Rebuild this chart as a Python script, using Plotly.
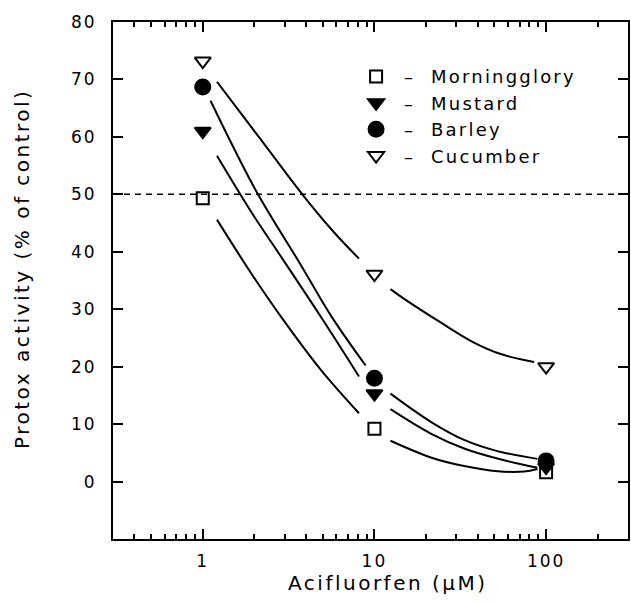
import plotly.graph_objects as go

# ---- data ----
conc = [1, 10, 100]  # Acifluorfen (µM)
species = ["Morningglory", "Mustard", "Barley", "Cucumber"]
morningglory = [49.3, 9.2, 1.6]
mustard = [61.0, 15.3, 2.5]
barley = [68.7, 18.0, 3.6]
cucumber = [73.2, 36.1, 20.0]

# fitted curves (two segments each, gap around the 10 µM marker)
mg_curve_x = [1.21, 1.90, 2.84, 4.86, 8.13, None, 12.4, 21.3, 33.3, 52, 74.5, 89]
mg_curve_y = [45.6, 36.4, 28.8, 19.5, 11.9, None, 7.1, 4.2, 2.7, 1.8, 1.75, 2.2]
mu_curve_x = [1.21, 1.90, 3.0, 4.97, 8.13, None, 12.4, 21.3, 33.3, 52, 89]
mu_curve_y = [56.7, 47.1, 38.2, 28.3, 18.3, None, 12.6, 8.35, 5.75, 4.0, 2.4]
ba_curve_x = [1.11, 2.07, 3.71, 5.69, 8.89, None, 12.4, 21.3, 33.3, 52, 89]
ba_curve_y = [66.3, 50.3, 37.8, 28.5, 20.2, None, 15.3, 10.4, 7.25, 5.3, 3.95]
cu_curve_x = [1.21, 2.17, 3.8, 5.81, 8.13, None, 12.4, 14.9, 24.3, 38.0, 54.4, 85.2]
cu_curve_y = [69.6, 59.6, 50.0, 43.4, 38.8, None, 33.5, 31.8, 27.7, 24.2, 22.2, 20.8]

threshold = 50
y_range = [-10, 80]
y_ticks = [0, 10, 20, 30, 40, 50, 60, 70, 80]
x_ticks = [1, 10, 100]
x_ticklabels = ["1", "10", "100"]
x_title = "Acifluorfen (\u03bcM)"
y_title = "Protox activity (% of control)"

FONT = "DejaVu Sans"
fig = go.Figure()

curves = [(mg_curve_x, mg_curve_y), (mu_curve_x, mu_curve_y),
          (ba_curve_x, ba_curve_y), (cu_curve_x, cu_curve_y)]
for cx, cy in curves:
    fig.add_trace(go.Scatter(x=cx, y=cy, mode="lines", showlegend=False,
                             line=dict(color="black", width=2, shape="spline", smoothing=1.0),
                             connectgaps=False, hoverinfo="skip"))

markers = [
    (morningglory, "square-open", 12),
    (mustard, "triangle-down", 14),
    (barley, "circle", 15),
    (cucumber, "triangle-down-open", 14),
]
for name, (vals, sym, size) in zip(species, markers):
    fig.add_trace(go.Scatter(
        x=conc, y=vals, mode="markers", name=" \u2013  " + name,
        marker=dict(symbol=sym, size=size, color="black",
                    line=dict(color="black", width=2))))

fig.add_hline(y=threshold, line=dict(color="black", width=1.5, dash="6px,5px"))

fig.add_annotation(text=x_title, xref="paper", yref="paper", x=0.534, y=-0.086,
                   xanchor="center", yanchor="middle", showarrow=False,
                   font=dict(size=20, family=FONT, color="black"))
fig.add_annotation(text=y_title, xref="paper", yref="paper", x=-0.176, y=0.522,
                   xanchor="center", yanchor="middle", showarrow=False, textangle=-90,
                   font=dict(size=20, family=FONT, color="black"))

fig.update_layout(
    width=631, height=604,
    margin=dict(l=113, r=1, t=22, b=65),
    paper_bgcolor="white", plot_bgcolor="white",
    font=dict(family=FONT, color="black", size=18),
    legend=dict(x=0.472, y=0.93, xanchor="left", yanchor="top",
                bgcolor="rgba(0,0,0,0)", font=dict(size=18, family=FONT),
                itemwidth=30, tracegroupgap=0),
)
fig.update_xaxes(
    type="log", range=[-0.5229, 2.4771],
    tickvals=x_ticks, ticktext=x_ticklabels,
    ticks="inside", ticklen=10, tickwidth=2, tickcolor="black",
    minor=dict(ticks="inside", ticklen=5, tickwidth=1.5, tickcolor="black",
               dtick="D1", showgrid=False),
    showline=True, linewidth=2, linecolor="black", mirror="ticks",
    showgrid=False, zeroline=False,
    tickfont=dict(size=17), ticklabelstandoff=6,
)
fig.update_yaxes(
    range=y_range, tickvals=y_ticks,
    ticks="inside", ticklen=10, tickwidth=2, tickcolor="black",
    showline=True, linewidth=2, linecolor="black", mirror="ticks",
    showgrid=False, zeroline=False,
    tickfont=dict(size=17), ticklabelstandoff=11,
)

spacing_js = (
    "document.querySelectorAll('.xtick text, .ytick text').forEach(function(t){t.style.letterSpacing='2px';});"
    "document.querySelectorAll('.legendtext').forEach(function(t){t.style.letterSpacing='2.2px';});"
    "document.querySelectorAll('.annotation-text').forEach(function(t){t.style.letterSpacing='2.5px';});"
    "document.querySelectorAll('.legend [clip-path], .legend').forEach(function(e){e.removeAttribute('clip-path');});"
)
fig.write_html("out.html", post_script=spacing_js)
